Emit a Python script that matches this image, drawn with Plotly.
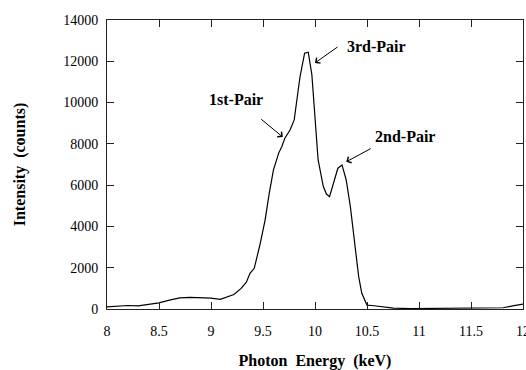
import plotly.graph_objects as go

energy = [8.0, 8.1, 8.2, 8.3, 8.4, 8.5, 8.6, 8.7, 8.8, 8.9, 9.0, 9.09, 9.15, 9.22, 9.29, 9.34, 9.375,
          9.416, 9.47, 9.52, 9.56, 9.60, 9.65, 9.68, 9.71, 9.76, 9.80, 9.856, 9.90, 9.935, 9.97,
          10.0, 10.03, 10.08, 10.11, 10.14, 10.18, 10.22, 10.26, 10.30, 10.34, 10.385, 10.42,
          10.45, 10.50, 10.545, 10.66, 10.755, 10.915, 11.1, 11.39, 11.71, 11.81, 11.9, 12.0]
counts = [100, 150, 170, 150, 240, 300, 430, 540, 560, 540, 530, 470, 560, 700, 1000, 1300, 1730,
          1970, 3100, 4310, 5600, 6730, 7540, 7860, 8270, 8670, 9160, 11250, 12390, 12440, 11340,
          9160, 7220, 5930, 5570, 5440, 6090, 6820, 6980, 6250, 4960, 3020, 1565,
          760, 190, 170, 110, 40, 20, 25, 30, 40, 60, 150, 240]

x_ticks = [8, 8.5, 9, 9.5, 10, 10.5, 11, 11.5, 12]
x_tick_labels = ["8", "8.5", "9", "9.5", "10", "10.5", "11", "11.5", "12"]
y_ticks = [0, 2000, 4000, 6000, 8000, 10000, 12000, 14000]
y_tick_labels = ["0", "2000", "4000", "6000", "8000", "10000", "12000", "14000"]

peak_labels = ["1st-Pair", "3rd-Pair", "2nd-Pair"]
label_x = [9.236, 10.59, 10.87]
label_y = [10126, 12740, 8333]
head_x = [9.69, 10.0, 10.30]
head_y = [8330, 11920, 7130]
tail_ax = [-23, 24, 26]
tail_ay = [-19, -17, -14]

serif = "Liberation Serif"

fig = go.Figure()
fig.add_trace(go.Scatter(x=energy, y=counts, mode="lines",
                         line=dict(color="black", width=1.2), showlegend=False))

annotations = []
for t, lx, ly, hx, hy, ax, ay in zip(peak_labels, label_x, label_y, head_x, head_y, tail_ax, tail_ay):
    annotations.append(dict(x=lx, y=ly, xref="x", yref="y", text="<b>" + t + "</b>",
                            showarrow=False, font=dict(family=serif, size=16, color="black")))
    annotations.append(dict(x=hx, y=hy, xref="x", yref="y", text="", showarrow=True,
                            ax=ax, ay=ay, arrowhead=4, arrowsize=1.3, arrowwidth=1,
                            arrowcolor="black"))

fig.update_layout(
    width=526, height=370,
    margin=dict(l=107, r=3, t=20, b=61),
    paper_bgcolor="white", plot_bgcolor="white",
    font=dict(family=serif, size=14, color="black"),
    annotations=annotations,
    xaxis=dict(range=[8, 12], tickvals=x_ticks, ticktext=x_tick_labels, automargin=False,
               ticks="inside", ticklen=7, tickcolor="#222", showgrid=False, zeroline=False,
               showline=True, linecolor="#222", linewidth=1, mirror="ticks",
               tickfont=dict(family=serif, size=14), ticklabelstandoff=9,
               ticklabeloverflow="allow",
               title=dict(text="<b>Photon  Energy  (keV)</b>", font=dict(family=serif, size=16),
                          standoff=21)),
    yaxis=dict(range=[0, 14000], tickvals=y_ticks, ticktext=y_tick_labels, automargin=False,
               ticks="inside", ticklen=7, tickcolor="#222", showgrid=False, zeroline=False,
               showline=True, linecolor="#222", linewidth=1, mirror="ticks",
               tickfont=dict(family=serif, size=14), ticklabelstandoff=5,
               ticklabeloverflow="allow",
               title=dict(text="<b>Intensity  (counts)</b>", font=dict(family=serif, size=16),
                          standoff=33)),
)

fig.write_html("out.html", config={"displayModeBar": False},
               post_script="document.body.style.margin='0';document.body.style.overflow='hidden';")
